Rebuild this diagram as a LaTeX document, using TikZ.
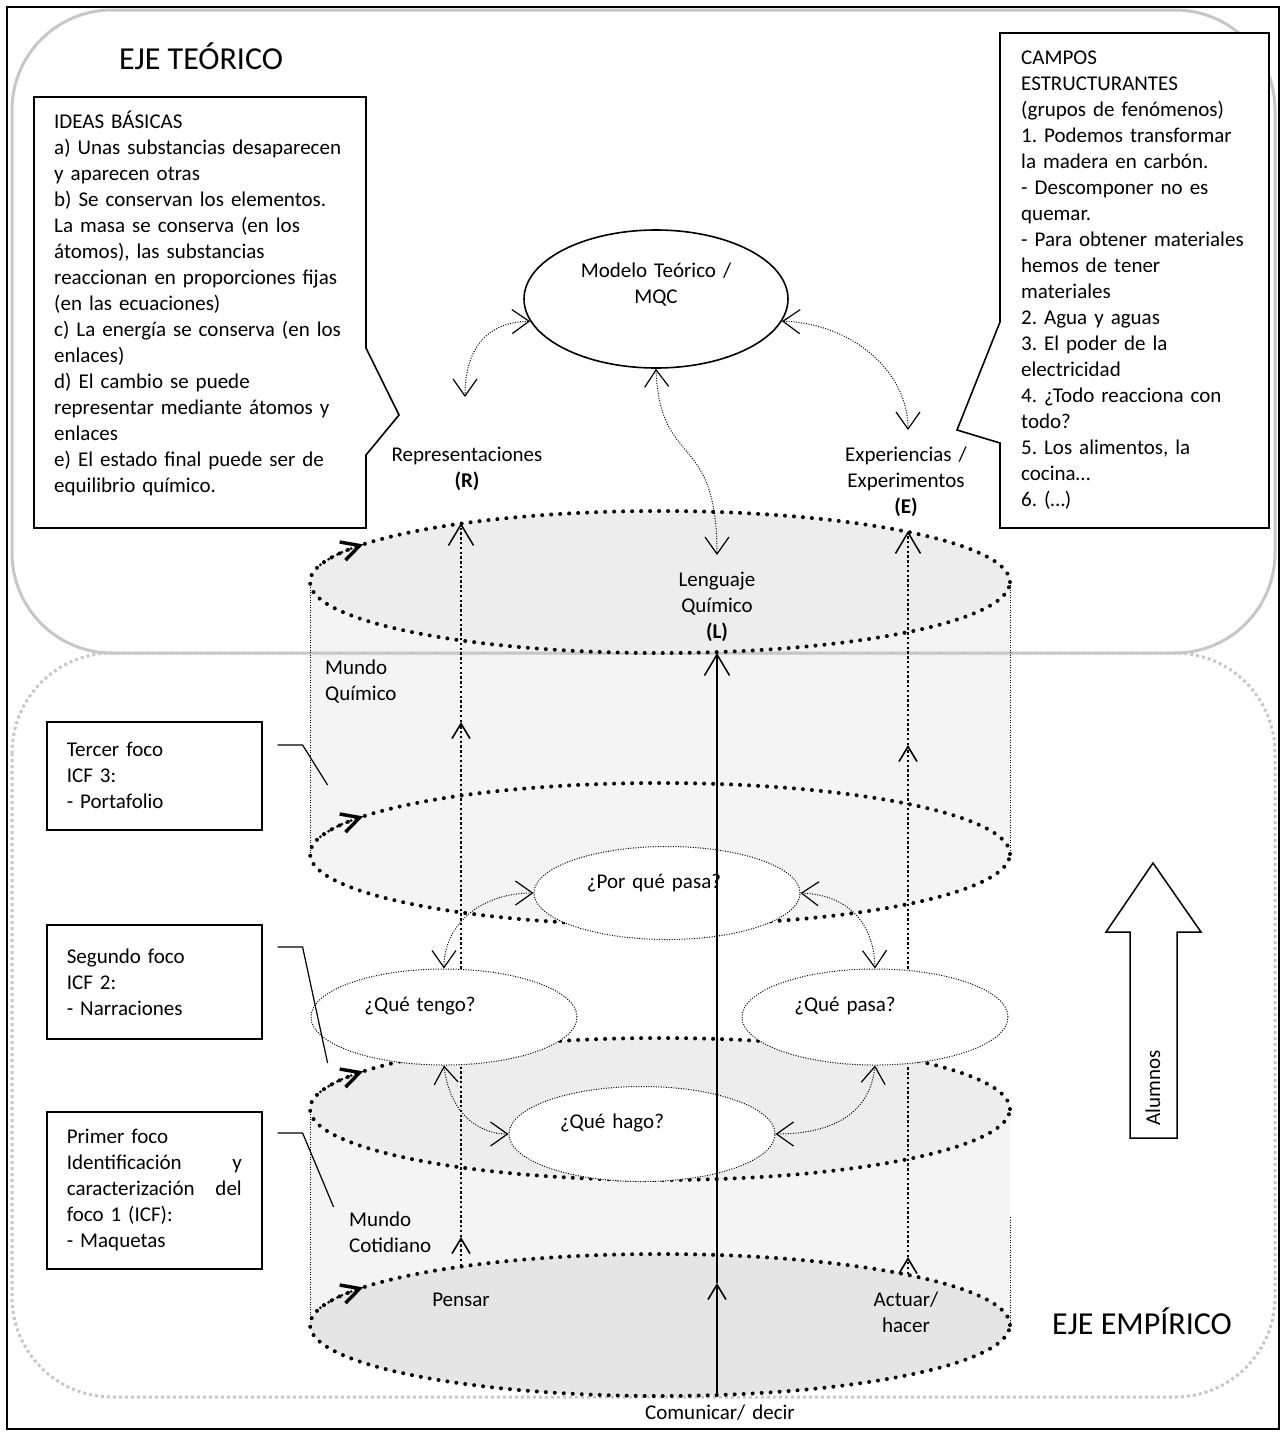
\documentclass[tikz,border=0pt]{standalone}
\usepackage{fontspec}
\setmainfont{Carlito}
\usetikzlibrary{arrows.meta,shapes.geometric}
\frenchspacing

\tikzset{
	axisline/.style={draw=black!22, line width=3pt},
	axisdot/.style={draw=black!22, line width=3pt, dash pattern=on 3pt off 3pt},
	ringdot/.style={line width=4pt, dash pattern=on 0pt off 9pt, line cap=round},
	ring/.style={ellipse, draw, ringdot, minimum width=700, minimum height=142, inner sep=0pt},
	ringtip/.style={line width=3pt, dash pattern=on 0pt off 5pt, line cap=round, >={Straight Barb[length=18pt,width=19pt,line width=3.4pt]}, ->},
	thindot/.style={line width=1pt, dash pattern=on 1pt off 1.5pt},
	bubble/.style={ellipse, draw, thindot, fill=white, minimum width=266, minimum height=96, inner sep=0pt},
	dualarc/.style={thindot, >={Straight Barb[length=17pt,width=24pt,line width=1.2pt]}, <->},
	medline/.style={line width=2.4pt, dash pattern=on 2.4pt off 2.4pt},
	solidline/.style={line width=2pt},
	bigtip/.style={>={Straight Barb[length=21pt,width=25pt,line width=1.5pt]}, ->},
	smalltip/.style={>={Straight Barb[length=15pt,width=18pt,line width=1.6pt]}, ->},
	boxline/.style={line width=1.6pt},
	foco/.style={draw, boxline, fill=white, anchor=north west, minimum width=215, text width=175, inner xsep=20pt, align=left},
	lbl/.style={anchor=base, inner sep=0pt, text width=240pt, align=center},
	lblleft/.style={anchor=base west, inner sep=0pt, text width=250pt, align=left},
	head/.style={anchor=base, inner sep=0pt, font=\fontsize{32}{38}\selectfont}
}

\begin{document}
\begin{tikzpicture}[x=1pt, y=-1pt, font=\fontsize{21}{26}\selectfont]
	\useasboundingbox (0,0) rectangle (1285,1436);
	%frame
	\draw[line width=1.5pt] (7,7) rectangle (1279,1429);
	%cylinder bodies
	\fill[gray!9] (310,582) -- (310,854) arc[start angle=180, end angle=0, x radius=350, y radius=71] -- (1010,582) -- cycle;
	\fill[gray!9] (310,1109) -- (310,1325) arc[start angle=180, end angle=0, x radius=350, y radius=71] -- (1010,1109) -- cycle;
	%axes
	\draw[axisdot, rounded corners=100pt] (12,653) rectangle (1275,1397);
	\draw[axisline, rounded corners=100pt] (12,10) rectangle (1275,653);
	%cylinder sides
	\draw[thindot] (310,582) -- (310,854);
	\draw[thindot] (1010,582) -- (1010,854);
	\draw[thindot] (310,1109) -- (310,1325);
	\draw[thindot] (1010,1217) -- (1010,1325);
	%rings
	\node[ring, fill=gray!14] (ring1) at (660,582) {};
	\node[ring] (ring2) at (660,854) {};
	\node[ring, fill=gray!14] (ring3) at (660,1109) {};
	\node[ring, fill=gray!20] (ring4) at (660,1325) {};
	\foreach \r in {1,...,4}
	\draw[ringtip] (ring\r.center) ++(194:350 and 71) arc[start angle=194, end angle=212, x radius=350, y radius=71];
	%questions
	\node[bubble, minimum height=93] (porque) at (667,893) {};
	\node[bubble] (tengo) at (444,1017) {};
	\node[bubble] (pasa) at (875,1017) {};
	\node[bubble, minimum height=95] (hago) at (642,1134) {};
	\draw[dualarc] (porque.west) .. controls (480,893) and (444,925) .. (tengo.north);
	\draw[dualarc] (porque.east) .. controls (850,895) and (874,925) .. (pasa.north);
	\draw[dualarc] (tengo.south) .. controls (450,1115) and (480,1134) .. (hago.west);
	\draw[dualarc] (pasa.south) .. controls (870,1115) and (830,1134) .. (hago.east);
	%R line
	\coordinate (r0) at (461,1266);
	\coordinate (r1) at (461,1237);
	\coordinate (r4) at (461,722);
	\coordinate (r5) at (461,523);
	\draw[medline, smalltip] (r0) -- (r1);
	\draw[medline] (r1) -- (tengo.south -| r0);
	\draw[medline, smalltip] (tengo.north -| r0) -- (r4);
	\draw[medline, bigtip] (r4) -- (r5);
	%E line
	\coordinate (e0) at (908,1274);
	\coordinate (e1) at (908,1257);
	\coordinate (e4) at (908,745);
	\coordinate (e5) at (908,531);
	\draw[medline, smalltip] (e0) -- (e1);
	\draw[medline] (e1) -- (pasa.south -| e0);
	\draw[medline, smalltip] (pasa.north -| e0) -- (e4);
	\draw[medline, bigtip] (e4) -- (e5);
	%model
	\node[ellipse, draw, boxline, minimum width=264, minimum height=138, inner sep=0pt] (modelo) at (656,299) {};
	\coordinate (reptop) at (465,397);
	\coordinate (exptop) at (908,430);
	\coordinate (lengtop) at (717,555);
	\draw[dualarc] (modelo.190) .. controls (490,322) and (465,345) .. (reptop);
	\draw[dualarc] (modelo.-10) .. controls (850,323) and (908,370) .. (exptop);
	\draw[dualarc] (modelo.south) .. controls (660,470) and (717,430) .. (lengtop);
	%communication
	\coordinate (cbase) at (717,1397);
	\coordinate (cmid) at (717,1283);
	\coordinate (ctop) at (717,653);
	\draw[solidline, smalltip] (cbase) -- (cmid);
	\draw[solidline, bigtip] (cmid) -- (ctop);
	%callouts
	\draw[boxline, fill=white] (34,97) -- (366,97) -- (366,348) -- (399,415) -- (366,455) -- (366,528) -- (34,528) -- cycle;
	\node[lblleft, text width=320pt] (ideas) at (54,128) {IDEAS BÁSICAS\\
		a) Unas substancias desaparecen\\
		y aparecen otras\\
		b) Se conservan los elementos.\\
		La masa se conserva (en los\\
		átomos), las substancias\\
		reaccionan en proporciones fijas\\
		(en las ecuaciones)\\
		c) La energía se conserva (en los\\
		enlaces)\\
		d) El cambio se puede\\
		representar mediante átomos y\\
		enlaces\\
		e) El estado final puede ser de\\
		equilibrio químico.};
	\draw[boxline, fill=white] (1000,33) -- (1269,33) -- (1269,528) -- (1000,528) -- (1000,443) -- (957,430) -- (1000,322) -- cycle;
	\node[lblleft] (campos) at (1021,64) {CAMPOS\\
		ESTRUCTURANTES\\
		(grupos de fenómenos)\\
		1. Podemos transformar\\
		la madera en carbón.\\
		- Descomponer no es\\
		quemar.\\
		- Para obtener materiales\\
		hemos de tener\\
		materiales\\
		2. Agua y aguas\\
		3. El poder de la\\
		electricidad\\
		4. ¿Todo reacciona con\\
		todo?\\
		5. Los alimentos, la\\
		cocina…\\
		6. (…)};
	%focus boxes
	\node[foco, minimum height=108] (foco3) at (46,721) {Tercer foco\\ICF 3:\\- Portafolio};
	\node[foco, minimum height=114] (foco2) at (46,924) {Segundo foco\\ICF 2:\\- Narraciones};
	\node[foco, minimum height=157] (foco1) at (46,1111) {Primer foco\\Identificación\hfill y\\caracterización\hfill del\\foco 1 (ICF):\\- Maquetas};
	\draw[boxline, line width=1.2pt] ([shift={(15,24)}]foco3.north east) -- ++(25,0) -- ++(25,40);
	\draw[boxline, line width=1.2pt] ([shift={(15,23)}]foco2.north east) -- ++(25,0) -- ++(25,116);
	\draw[boxline, line width=1.2pt] ([shift={(15,22)}]foco1.north east) -- ++(25,0) -- ++(31,74);
	%labels
	\node[head] (ejeT) at (201,69) {EJE TEÓRICO};
	\node[head] (ejeE) at (1142,1334) {EJE EMPÍRICO};
	\node[lbl] (modelotxt) at (656,277) {Modelo Teórico /\\MQC};
	\node[lbl] (rep) at (467,461) {Representaciones\\\textbf{(R)}};
	\node[lbl] (exp) at (906,461) {Experiencias /\\Experimentos\\\textbf{(E)}};
	\node[lbl] (leng) at (717,586) {Lenguaje\\Químico\\\textbf{(L)}};
	\node[lblleft] (quimico) at (325,674) {Mundo\\Químico};
	\node[lbl] (porquetxt) at (654,888) {¿Por qué pasa?};
	\node[lbl] (tengotxt) at (420,1011) {¿Qué tengo?};
	\node[lbl] (pasatxt) at (845,1011) {¿Qué pasa?};
	\node[lbl] (hagotxt) at (612,1128) {¿Qué hago?};
	\node[lblleft] (cotidiano) at (349,1226) {Mundo\\Cotidiano};
	\node[lbl] (pensar) at (461,1306) {Pensar};
	\node[lbl] (actuar) at (906,1306) {Actuar/\\hacer};
	\node[lbl] (comunicar) at (720,1419) {Comunicar/ decir};
	%students
	\draw[line width=1.5pt, fill=white] (1130,1138) -- (1130,932) -- (1106,932) -- (1153,863) -- (1201,932) -- (1177,932) -- (1177,1138) -- cycle;
	\node[rotate=90] (alumnos) at (1153,1088) {Alumnos};
\end{tikzpicture}
\end{document}
